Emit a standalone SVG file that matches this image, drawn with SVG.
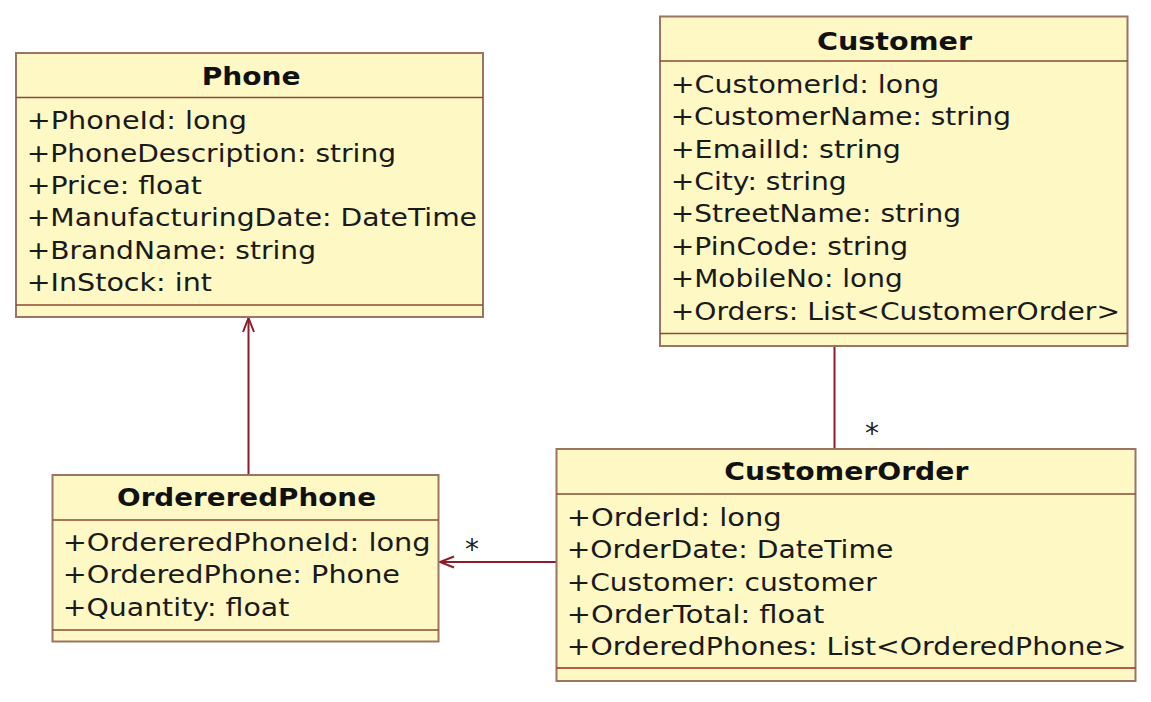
<svg xmlns="http://www.w3.org/2000/svg" width="1151" height="702" viewBox="0 0 1151 702">
<style>
.box{fill:#fdf8c4;stroke:#9c7464;stroke-width:2}
.div{stroke:#8a4a34;stroke-width:1.6}
.t{font-family:"DejaVu Sans",Verdana,sans-serif;font-size:25px;fill:#1a1a1a}
.h{font-family:"DejaVu Sans",Verdana,sans-serif;font-size:25px;font-weight:bold;fill:#111}
.c{stroke:#8b1c2c;stroke-width:2;fill:none}
.m{font-family:"DejaVu Sans",Verdana,sans-serif;font-size:28px;fill:#222}
</style>
<rect width="1151" height="702" fill="#ffffff"/>
<g id="connectors">
<line class="c" x1="248.5" y1="475" x2="248.5" y2="318"/>
<polyline class="c" points="243,332 248.5,318 254,332"/>
<line class="c" x1="834.5" y1="346" x2="834.5" y2="449"/>
<text class="m" x="872" y="443" text-anchor="middle">*</text>
<line class="c" x1="556.5" y1="562" x2="440" y2="562"/>
<polyline class="c" points="454,556.5 440,562 454,567.5"/>
<text class="m" x="472" y="559" text-anchor="middle">*</text>
</g>
<g id="Phone">
<rect class="box" x="16" y="53" width="467" height="264"/>
<line class="div" x1="16" y1="97.5" x2="483" y2="97.5"/>
<line class="div" x1="16" y1="305" x2="483" y2="305"/>
<text class="h" x="201.7" y="85" textLength="99" lengthAdjust="spacingAndGlyphs">Phone</text>
<text class="t" x="26.7" y="129.3" textLength="220.3" lengthAdjust="spacingAndGlyphs">+PhoneId: long</text>
<text class="t" x="26.7" y="161.6" textLength="369.3" lengthAdjust="spacingAndGlyphs">+PhoneDescription: string</text>
<text class="t" x="26.7" y="193.9" textLength="175.3" lengthAdjust="spacingAndGlyphs">+Price: float</text>
<text class="t" x="26.7" y="226.2" textLength="450.3" lengthAdjust="spacingAndGlyphs">+ManufacturingDate: DateTime</text>
<text class="t" x="26.7" y="258.5" textLength="289.3" lengthAdjust="spacingAndGlyphs">+BrandName: string</text>
<text class="t" x="26.7" y="290.8" textLength="185.3" lengthAdjust="spacingAndGlyphs">+InStock: int</text>
</g>
<g id="Customer">
<rect class="box" x="660" y="16.5" width="467.5" height="329.5"/>
<line class="div" x1="660" y1="61" x2="1127.5" y2="61"/>
<line class="div" x1="660" y1="333.5" x2="1127.5" y2="333.5"/>
<text class="h" x="817" y="49.5" textLength="155" lengthAdjust="spacingAndGlyphs">Customer</text>
<text class="t" x="670.7" y="92.7" textLength="268.6" lengthAdjust="spacingAndGlyphs">+CustomerId: long</text>
<text class="t" x="670.7" y="125.1" textLength="340.3" lengthAdjust="spacingAndGlyphs">+CustomerName: string</text>
<text class="t" x="670.7" y="157.5" textLength="230.3" lengthAdjust="spacingAndGlyphs">+EmailId: string</text>
<text class="t" x="670.7" y="189.9" textLength="176" lengthAdjust="spacingAndGlyphs">+City: string</text>
<text class="t" x="670.7" y="222.3" textLength="290.3" lengthAdjust="spacingAndGlyphs">+StreetName: string</text>
<text class="t" x="670.7" y="254.7" textLength="237.6" lengthAdjust="spacingAndGlyphs">+PinCode: string</text>
<text class="t" x="670.7" y="287.1" textLength="232" lengthAdjust="spacingAndGlyphs">+MobileNo: long</text>
<text class="t" x="670.7" y="319.5" textLength="449.3" lengthAdjust="spacingAndGlyphs">+Orders: List&lt;CustomerOrder&gt;</text>
</g>
<g id="OrdereredPhone">
<rect class="box" x="52.5" y="475" width="386" height="166.5"/>
<line class="div" x1="52.5" y1="520" x2="438.5" y2="520"/>
<line class="div" x1="52.5" y1="630" x2="438.5" y2="630"/>
<text class="h" x="117" y="506" textLength="259" lengthAdjust="spacingAndGlyphs">OrdereredPhone</text>
<text class="t" x="62.7" y="550.7" textLength="368" lengthAdjust="spacingAndGlyphs">+OrdereredPhoneId: long</text>
<text class="t" x="62.7" y="583.2" textLength="337.3" lengthAdjust="spacingAndGlyphs">+OrderedPhone: Phone</text>
<text class="t" x="62.7" y="615.7" textLength="226.6" lengthAdjust="spacingAndGlyphs">+Quantity: float</text>
</g>
<g id="CustomerOrder">
<rect class="box" x="556.5" y="449" width="579" height="232"/>
<line class="div" x1="556.5" y1="494" x2="1135.5" y2="494"/>
<line class="div" x1="556.5" y1="668" x2="1135.5" y2="668" style="stroke:#a0281e"/>
<text class="h" x="724.3" y="480" textLength="244" lengthAdjust="spacingAndGlyphs">CustomerOrder</text>
<text class="t" x="566.7" y="525.7" textLength="215" lengthAdjust="spacingAndGlyphs">+OrderId: long</text>
<text class="t" x="566.7" y="558.1" textLength="326.6" lengthAdjust="spacingAndGlyphs">+OrderDate: DateTime</text>
<text class="t" x="566.7" y="590.5" textLength="310" lengthAdjust="spacingAndGlyphs">+Customer: customer</text>
<text class="t" x="566.7" y="622.9" textLength="257.6" lengthAdjust="spacingAndGlyphs">+OrderTotal: float</text>
<text class="t" x="566.7" y="655.3" textLength="559.8" lengthAdjust="spacingAndGlyphs">+OrderedPhones: List&lt;OrderedPhone&gt;</text>
</g>
</svg>
